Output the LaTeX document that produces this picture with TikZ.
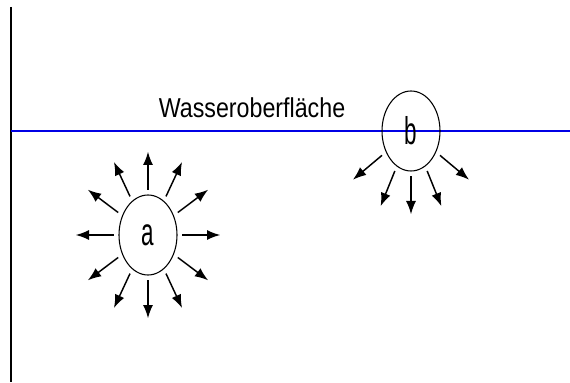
\documentclass[tikz,border=0pt]{standalone}
\usepackage{graphicx}
\usepackage{fontspec}
\setmainfont{Liberation Sans}
\usetikzlibrary{arrows.meta,shapes.geometric}
\tikzset{
  bubble/.style={ellipse,draw=black,line width=0.8pt,minimum width=43.5pt,minimum height=60pt,inner sep=0pt,outer sep=4pt,font=\fontsize{29}{30}\selectfont},
  ray/.style={-{Latex[length=10pt,width=7.5pt]},line width=1.1pt,draw=black},
  surface/.style={line width=2.2pt,draw=blue!90!black},
  wall/.style={line width=1.6pt,draw=black}
}
\begin{document}
\begin{tikzpicture}[x=0.75pt,y=0.75pt]
  \useasboundingbox (0,0) rectangle (570,382);
  \draw[wall] (11,375)--(11,0);
  \draw[surface] (11,251)--(570,251);
  \node[anchor=base,font=\fontsize{20.5}{22}\selectfont] (label) at (252,264) {\scalebox{0.85}[1]{Wasseroberfläche}};
  \node[bubble] (a) at (148,147) {\scalebox{0.58}[1]{a}};
  \node[bubble] (b) at (411,251) {\scalebox{0.58}[1]{b}};
  \foreach \ang in {0,37,65,90,115,143,180,217,245,270,295,323}{\draw[ray] (a.\ang)--++(\ang:38);}
  \foreach \ang in {220,248,270,292,320}{\draw[ray] (b.\ang)--++(\ang:38);}
\end{tikzpicture}
\end{document}
